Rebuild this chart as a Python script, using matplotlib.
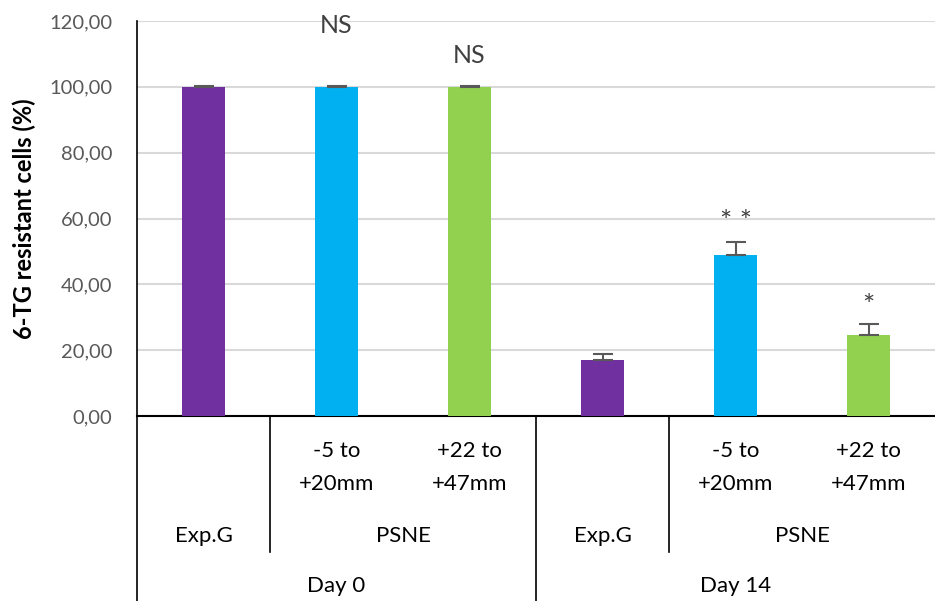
import matplotlib
matplotlib.use("Agg")
import matplotlib.pyplot as plt
import matplotlib.transforms as mtransforms
from matplotlib.ticker import FuncFormatter

# Data
sub_labels = ["", "-5 to\n+20mm", "+22 to\n+47mm", "", "-5 to\n+20mm", "+22 to\n+47mm"]
group_labels = ["Exp.G", "PSNE", "Exp.G", "PSNE"]
day_labels = ["Day 0", "Day 14"]
values = [100.0, 100.0, 100.0, 17.0, 49.0, 24.7]
errors = [0.2, 0.2, 0.2, 1.8, 3.9, 3.3]
annotations = ["", "NS", "NS", "", "* *", "*"]
annot_y = [None, 118.5, 109.5, None, 58.5, 33.0]
colors = ["#7030A0", "#00B0F0", "#92D050", "#7030A0", "#00B0F0", "#92D050"]
yticks = [0, 20, 40, 60, 80, 100, 120]

plt.rcParams['font.family'] = ['Lato', 'DejaVu Sans']

W, H = 935, 601
fig = plt.figure(figsize=(W/100, H/100), dpi=100)
ax = fig.add_axes([137/W, 1-416/H, (935-137)/W, (416-21)/H])

x = list(range(len(values)))
ax.bar(x, values, width=0.32, color=colors, zorder=3)
ax.errorbar(x, values, yerr=[[0]*len(errors), errors], fmt='none', ecolor='#595959',
            elinewidth=1.5, capsize=7, capthick=1.5, zorder=4)
for xi, a, ay_ in zip(x, annotations, annot_y):
    if a:
        ax.text(xi, ay_, a, ha='center', va='center', fontsize=18 if a == 'NS' else 21,
                color='#404040')

ax.set_xlim(-0.5, len(values)-0.5)
ax.set_ylim(0, 120)
ax.set_yticks(yticks)
ax.yaxis.set_major_formatter(FuncFormatter(lambda v, p: f"{v:.2f}".replace('.', ',')))
ax.tick_params(axis='y', length=0, labelsize=14.5, colors='#595959', pad=18)
ax.set_xticks([])
ax.grid(axis='y', color='#d9d9d9', linewidth=1.5, zorder=0)
for s in ['top', 'right']:
    ax.spines[s].set_visible(False)
ax.spines['left'].set_color('black')
ax.spines['left'].set_linewidth(1.2)
ax.spines['bottom'].set_color('black')
ax.spines['bottom'].set_linewidth(1.5)
ax.set_ylabel("6-TG resistant cells (%)", fontsize=17, fontweight='bold')
ax.yaxis.set_label_coords(-(137-24)/(935-137), 0.5)
ax.yaxis.label.set_va('center')

# categorical multi-level axis
axh = 416-21
def ay(px):
    return (416-px)/axh
trans = mtransforms.blended_transform_factory(ax.transData, ax.transAxes)
lk = dict(color='black', linewidth=1.2, transform=trans, clip_on=False)
ax.plot([-0.5, -0.5], [0, ay(601)], **lk)
ax.plot([2.5, 2.5], [0, ay(601)], **lk)
ax.plot([0.5, 0.5], [0, ay(552)], **lk)
ax.plot([3.5, 3.5], [0, ay(552)], **lk)

tk = dict(ha='center', va='center', fontsize=16, color='black', transform=trans, clip_on=False)
for xi, lab in zip(x, sub_labels):
    if lab:
        l1, l2 = lab.split("\n")
        ax.text(xi, ay(451), l1, **tk)
        ax.text(xi, ay(484), l2, **tk)
group_pos = [0, 1.5, 3, 4.5]
for gp, g in zip(group_pos, group_labels):
    ax.text(gp, ay(536), g, **tk)
for dp, d in zip([1, 4], day_labels):
    ax.text(dp, ay(586), d, **tk)

fig.savefig("out.png", dpi=100)
